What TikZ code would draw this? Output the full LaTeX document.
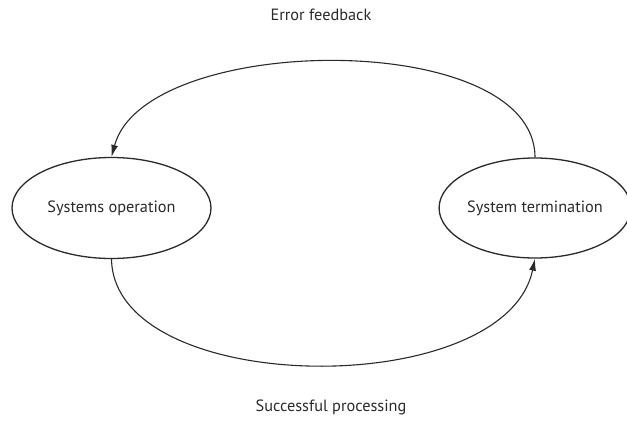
\documentclass[tikz,border=0pt]{standalone}
\usepackage{fontspec}
\setmainfont{PT Sans}
\usetikzlibrary{shapes.geometric,arrows.meta}
\definecolor{ink}{HTML}{2A2A2A}
\begin{document}
\begin{tikzpicture}[x=1pt,y=-1pt,
  state/.style={ellipse,draw=ink,line width=1.3pt,text=ink,font=\fontsize{16.3}{19}\selectfont,inner sep=0pt},
  conn/.style={draw=ink,line width=1.1pt,-{Latex[length=12pt,width=7pt]}},
  lbl/.style={text=ink,font=\fontsize{16.3}{19}\selectfont}]
\useasboundingbox (0,0) rectangle (627,423);
\node[state,minimum width=199pt,minimum height=101pt] (op) at (111.5,208) {Systems operation};
\node[state,minimum width=190pt,minimum height=100pt] (term) at (535,208) {System termination};
\draw[conn] (term.north) .. controls (535,28) and (145,32) .. (op.north);
\draw[conn] (op.south) .. controls (114,398) and (505,402) .. (term.south);
\node[lbl] (ef) at (321,15) {Error feedback};
\node[lbl] (sp) at (331,407) {Successful processing};
\end{tikzpicture}
\end{document}
